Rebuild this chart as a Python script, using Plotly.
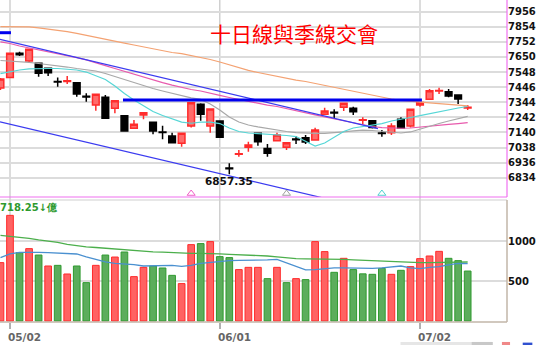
import plotly.graph_objects as go

# ---- trading-day index (0 = 05/02, 22 = 06/01, 43 = 07/02) ----
idx = list(range(-1, 49))
tick_idx = [0, 22, 43]
tick_text = ["05/02", "06/01", "07/02"]

# ---- daily OHLC (TAIEX) ----
opens = [7440, 7512, 7675, 7623, 7607, 7573, 7485, 7484, 7476, 7384,
         7325, 7377, 7303, 7253, 7168, 7258, 7208, 7143, 7116, 7066,
         7183, 7330, 7183, 7217, 6899, 6992, 7039, 7134, 7032, 7084,
         7039, 7095, 7104, 7089, 7262, 7276, 7310, 7303, 7222, 7219,
         7136, 7138, 7229, 7183, 7325, 7364, 7420, 7415, 7393, 7305]
highs = [7508, 7680, 7686, 7705, 7611, 7579, 7512, 7521, 7481, 7404,
         7400, 7393, 7356, 7256, 7224, 7275, 7212, 7185, 7138, 7136,
         7343, 7337, 7300, 7221, 6931, 7021, 7077, 7138, 7062, 7138,
         7072, 7116, 7122, 7172, 7307, 7296, 7339, 7314, 7242, 7221,
         7156, 7202, 7242, 7298, 7345, 7433, 7442, 7433, 7395, 7325]
lows = [7427, 7508, 7656, 7611, 7517, 7521, 7449, 7467, 7381, 7348,
        7287, 7233, 7269, 7145, 7166, 7229, 7127, 7093, 7068, 7043,
        7174, 7219, 7138, 7105, 6857.35, 6976, 7010, 7050, 6976, 7082,
        7021, 7062, 7062, 7087, 7260, 7235, 7285, 7258, 7197, 7166,
        7111, 7122, 7168, 7174, 7314, 7362, 7400, 7377, 7332, 7291]
closes = [7501, 7675, 7665, 7702, 7540, 7544, 7481, 7490, 7400, 7379,
          7398, 7235, 7354, 7149, 7195, 7273, 7149, 7139, 7070, 7134,
          7341, 7262, 7298, 7107, 6895, 6996, 7055, 7077, 6999, 7122,
          7070, 7091, 7075, 7156, 7285, 7271, 7337, 7280, 7226, 7174,
          7132, 7183, 7170, 7296, 7343, 7422, 7424, 7386, 7366, 7310]

# ---- moving averages of the index ----
ma10 = [7538, 7552, 7562, 7569, 7572, 7572, 7572, 7569, 7562, 7548,
        7525, 7498, 7454, 7403, 7359, 7319, 7281, 7254, 7231, 7210,
        7202, 7210, 7210, 7200, 7170, 7146, 7136, 7133, 7129, 7123,
        7119, 7112, 7079, 7048, 7068, 7109, 7146, 7170, 7180, 7194,
        7200, 7217, 7227, 7241, 7254, 7268, 7281, 7292, 7305, 7315]
ma20 = [7626, 7623, 7619, 7613, 7606, 7599, 7589, 7582, 7572, 7565,
        7555, 7538, 7518, 7498, 7477, 7454, 7437, 7420, 7403, 7390,
        7373, 7363, 7332, 7292, 7244, 7210, 7190, 7177, 7166, 7156,
        7146, 7139, 7134, 7134, 7134, 7137, 7143, 7150, 7156, 7153,
        7146, 7139, 7136, 7143, 7163, 7183, 7200, 7217, 7234, 7248]
ma30 = [7752, 7741, 7724, 7711, 7700, 7690, 7677, 7663, 7646, 7630,
        7613, 7592, 7572, 7552, 7532, 7515, 7494, 7477, 7460, 7444,
        7430, 7420, 7403, 7390, 7376, 7362, 7352, 7339, 7325, 7315,
        7302, 7288, 7275, 7258, 7244, 7231, 7217, 7204, 7190, 7180,
        7173, 7170, 7168, 7170, 7177, 7183, 7188, 7194, 7200, 7206]
ma60 = [7855, 7855, 7855, 7853, 7846, 7839, 7829, 7821, 7809, 7795,
        7782, 7768, 7756, 7744, 7731, 7717, 7707, 7694, 7680, 7673,
        7660, 7648, 7633, 7616, 7596, 7575, 7559, 7545, 7532, 7518,
        7504, 7494, 7484, 7471, 7457, 7444, 7430, 7418, 7403, 7390,
        7379, 7366, 7356, 7349, 7346, 7340, 7335, 7330, 7324, 7319]

# ---- turnover (億) and its averages ----
volumes = [730, 1321, 855, 905, 825, 688, 696, 588, 688, 480,
           696, 825, 800, 863, 555, 671, 688, 663, 571, 468,
           955, 968, 993, 805, 793, 643, 671, 671, 530, 671,
           480, 530, 518, 993, 868, 609, 784, 643, 590, 584,
           659, 584, 634, 680, 780, 813, 871, 784, 755, 625]
vol_ma10 = [792, 840, 859, 862, 859, 855, 849, 844, 838, 802,
            771, 740, 721, 715, 705, 688, 688, 688, 696, 684,
            696, 721, 734, 750, 756, 759, 759, 759, 765, 771,
            728, 690, 640, 642, 652, 665, 665, 661, 665, 659,
            665, 678, 688, 665, 655, 671, 680, 702, 721, 718]
vol_ma_long = [1071, 1061, 1052, 1034, 1015, 1002, 984, 959, 940, 928,
               919, 909, 896, 888, 878, 871, 865, 861, 853, 846,
               846, 846, 846, 840, 834, 831, 828, 821, 813, 803,
               788, 780, 778, 778, 775, 774, 771, 765, 759, 753,
               749, 744, 738, 734, 730, 730, 730, 731, 734, 738]
vol_ma10_last = 718.25

# ---- drawn trend lines ----
channel_top_x = [-1.05, 38.59]
channel_top_y = [7769, 7166]
channel_bot_x = [-1.05, 34.61]
channel_bot_y = [7212, 6670]
neck_x = [11.85, 43.2]
neck_y = [7359, 7359]
old_line_x = [-1.05, 0.1]
old_line_y = [7814, 7814]

# ---- crossing markers ----
cross_idx = [19, 29, 39]
cross_level = [6727, 6727, 6727]
cross_colors = ["#f060c8", "#a0a0a0", "#50d0d0"]

price_ticks = [6834, 6936, 7038, 7140, 7242, 7344, 7446, 7548, 7650, 7752, 7854, 7956]
vol_ticks = [500, 1000]
low_label = "6857.35"
title_text = "十日線與季線交會"

X_RANGE = [-1.049, 52.124]
P_DOMAIN = [0.3882, 1.0]
V_DOMAIN = [0.0, 0.3789]

# volume colour follows close versus previous close
vol_up = []
for i, c in enumerate(closes):
    ref = closes[i - 1] if i > 0 else opens[i]
    vol_up.append(c >= ref)
vol_fill = ["#ff6262" if u else "#5cad5c" for u in vol_up]
vol_edge = ["#ff2a2a" if u else "#2f9a2f" for u in vol_up]

fig = go.Figure()

fig.add_trace(go.Bar(
    x=idx, y=volumes, xaxis="x2", yaxis="y2",
    marker=dict(color=vol_fill, line=dict(color=vol_edge, width=1)),
    hoverinfo="skip"))
fig.add_trace(go.Scatter(x=idx, y=vol_ma_long, mode="lines", xaxis="x2", yaxis="y2",
                         line=dict(color="#4caf4c", width=1.3)))
fig.add_trace(go.Scatter(x=idx, y=vol_ma10, mode="lines", xaxis="x2", yaxis="y2",
                         line=dict(color="#4a90d0", width=1.3)))

fig.add_trace(go.Candlestick(
    x=idx, open=opens, high=highs, low=lows, close=closes,
    xaxis="x", yaxis="y", whiskerwidth=0,
    increasing=dict(line=dict(color="#ff2b2b", width=1.5), fillcolor="#ff6b6b"),
    decreasing=dict(line=dict(color="#000000", width=1.5), fillcolor="#000000")))

for series, color in [(ma60, "#f4a272"), (ma30, "#e85aad"), (ma20, "#a8a8a8"), (ma10, "#55d6d6")]:
    fig.add_trace(go.Scatter(x=idx, y=series, mode="lines", xaxis="x", yaxis="y",
                             line=dict(color=color, width=1.2)))

fig.add_trace(go.Scatter(x=channel_top_x, y=channel_top_y, mode="lines",
                         line=dict(color="#3b3bf0", width=1.2)))
fig.add_trace(go.Scatter(x=channel_bot_x, y=channel_bot_y, mode="lines",
                         line=dict(color="#3b3bf0", width=1.2)))
fig.add_trace(go.Scatter(x=neck_x, y=neck_y, mode="lines",
                         line=dict(color="#0000ee", width=3)))
fig.add_trace(go.Scatter(x=old_line_x, y=old_line_y, mode="lines",
                         line=dict(color="#0000ee", width=3)))

fig.add_trace(go.Scatter(x=cross_idx, y=cross_level, mode="markers",
                         marker=dict(symbol="triangle-up-open", size=7, color=cross_colors,
                                     line=dict(width=1, color=cross_colors))))

shapes = []
# date grid lines through both panels
for t in tick_idx:
    shapes.append(dict(type="line", xref="x", yref="paper", x0=t, x1=t, y0=0, y1=1,
                       line=dict(color="#d0d0d0", width=1.5), layer="below"))
# price panel frame (right + bottom)
shapes.append(dict(type="line", xref="paper", yref="paper", x0=1, x1=1, y0=P_DOMAIN[0], y1=1,
                   line=dict(color="#f070f0", width=1.2)))
shapes.append(dict(type="line", xref="paper", yref="paper", x0=0, x1=1, y0=P_DOMAIN[0], y1=P_DOMAIN[0],
                   line=dict(color="#f070f0", width=1.2)))
# volume panel frame
shapes.append(dict(type="line", xref="paper", yref="paper", x0=0, x1=1, y0=V_DOMAIN[1], y1=V_DOMAIN[1],
                   line=dict(color="#cfcfcf", width=1.2)))
shapes.append(dict(type="line", xref="paper", yref="paper", x0=1, x1=1, y0=0, y1=V_DOMAIN[1],
                   line=dict(color="#c2b6a8", width=1.5)))
shapes.append(dict(type="line", xref="paper", yref="paper", x0=0, x1=1, y0=0, y1=0,
                   line=dict(color="#c2b6a8", width=1.5)))
# toolbar edge peeking in at the bottom
shapes.append(dict(type="rect", xref="paper", yref="paper", x0=0.79, x1=0.93, y0=-0.075, y1=-0.062,
                   line=dict(width=0), fillcolor="#e6e6e6"))
shapes.append(dict(type="rect", xref="paper", yref="paper", x0=0.93, x1=0.972, y0=-0.075, y1=-0.062,
                   line=dict(width=0), fillcolor="#c8c8c8"))
shapes.append(dict(type="rect", xref="paper", yref="paper", x0=0.99, x1=1.006, y0=-0.075, y1=-0.062,
                   line=dict(width=0), fillcolor="#f08888"))
shapes.append(dict(type="rect", xref="paper", yref="paper", x0=1.031, x1=1.05, y0=-0.075, y1=-0.064,
                   line=dict(width=0), fillcolor="#3050d0"))

num_font = dict(family="DejaVu Sans", size=10, color="#111111", weight="bold")

annotations = [
    dict(text=title_text, xref="paper", yref="paper", x=0.58, y=0.8975,
         xanchor="center", yanchor="middle", showarrow=False,
         font=dict(family="Noto Sans CJK TC", size=21, color="#ff0000")),
    dict(text=low_label, xref="x", yref="y", x=23, y=lows[24],
         xanchor="center", yanchor="top", showarrow=False, yshift=1,
         font=dict(family="DejaVu Sans", size=10.5, color="#111111", weight="bold")),
    dict(text=f"{vol_ma10_last:.2f}↓億", xref="paper", yref="paper", x=0, y=0.3562,
         xanchor="left", yanchor="middle", showarrow=False, xshift=-2,
         font=dict(family="DejaVu Sans", size=10, color="#2e9a2e", weight="bold")),
]
for t, lab in zip(tick_idx, tick_text):
    annotations.append(dict(text=lab, xref="x", yref="paper", x=t, y=-0.0457,
                            xanchor="left", yanchor="middle", showarrow=False, xshift=-4,
                            font=dict(family="DejaVu Sans", size=10.5, color="#666666",
                                      weight="bold")))

fig.update_layout(
    width=550, height=345,
    margin=dict(l=0, r=43, t=0, b=23),
    paper_bgcolor="white", plot_bgcolor="white",
    showlegend=False, hovermode=False,
    boxgap=0.3, boxgroupgap=0, bargap=0.3,
    shapes=shapes, annotations=annotations,
    xaxis=dict(domain=[0, 1], range=X_RANGE, anchor="y", showticklabels=False,
               showgrid=False, zeroline=False, showline=False, ticks="",
               rangeslider=dict(visible=False)),
    yaxis=dict(domain=P_DOMAIN, range=[6703.4, 8035.1], side="right", anchor="x",
               tickvals=price_ticks, ticks="", showgrid=True, gridcolor="#dcdcdc",
               gridwidth=2, zeroline=False, showline=False, tickfont=num_font),
    xaxis2=dict(domain=[0, 1], range=X_RANGE, anchor="y2", tickvals=tick_idx,
                ticktext=["", "", ""], ticks="outside", ticklen=6, tickwidth=1.5,
                tickcolor="#b0b0b0", showgrid=False, zeroline=False, showline=False),
    yaxis2=dict(domain=V_DOMAIN, range=[-12, 1513], side="right", anchor="x2",
                tickvals=vol_ticks, ticks="", showgrid=True, gridcolor="#dcdcdc",
                gridwidth=2, zeroline=False, showline=False, tickfont=num_font),
)

fig.write_html("out.html")
